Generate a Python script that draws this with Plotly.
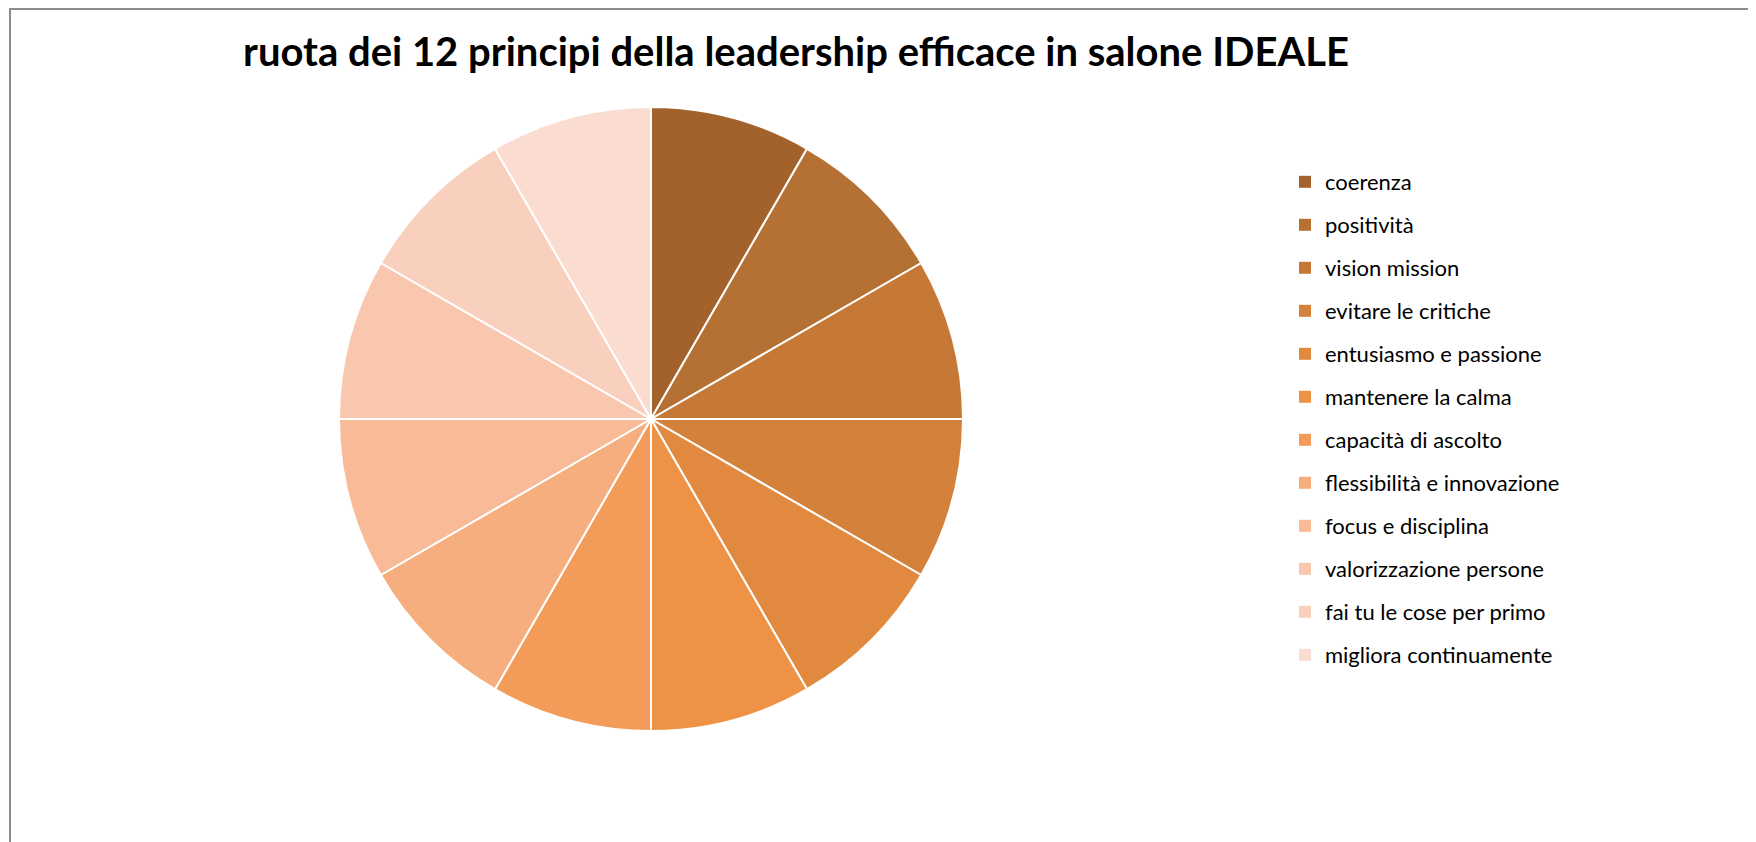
import plotly.graph_objects as go

labels = ["coerenza", "positività", "vision mission", "evitare le critiche",
          "entusiasmo e passione", "mantenere la calma", "capacità di ascolto",
          "flessibilità e innovazione", "focus e disciplina", "valorizzazione persone",
          "fai tu le cose per primo", "migliora continuamente"]
values = [1, 1, 1, 1, 1, 1, 1, 1, 1, 1, 1, 1]
colors = ["#A3622B", "#B57033", "#C67937", "#D4813C", "#E28940", "#EE9346",
          "#F39B58", "#F6AE7E", "#F8BA97", "#F8C7AD", "#F9D0BE", "#FADCD0"]
title_text = "ruota dei 12 principi della leadership efficace in salone IDEALE"

W, H = 1756, 842
FONT = "Lato"

fig = go.Figure()
fig.add_trace(go.Pie(
    labels=labels, values=values, sort=False, direction="clockwise", rotation=0,
    marker=dict(colors=colors, line=dict(color="white", width=2)),
    textinfo="none", hoverinfo="label", showlegend=False,
    domain=dict(x=[331 / W, 955 / W], y=[1 - 723 / H, 1 - 99 / H]),
))

# legend entries (one per category, so spacing can be controlled)
for i, (lab, col) in enumerate(zip(labels, colors)):
    fig.add_trace(go.Scatter(
        x=[None], y=[None], mode="markers", name=lab, legendgroup=f"g{i}",
        marker=dict(symbol="square", size=13, color=col), showlegend=True,
    ))

fig.update_layout(
    width=W, height=H,
    margin=dict(l=0, r=0, t=0, b=0),
    paper_bgcolor="white", plot_bgcolor="white",
    font=dict(family=FONT, color="#000000"),
    title=dict(text="<b>" + title_text + "</b>", x=788 / W, xanchor="center",
               y=1 - 44 / H, yanchor="middle",
               font=dict(family=FONT, size=40, color="#000000")),
    xaxis=dict(visible=False), yaxis=dict(visible=False),
    legend=dict(x=1277 / W, xanchor="left", y=1 - 153 / H, yanchor="top",
                font=dict(family=FONT, size=22, color="#000000"),
                tracegroupgap=11.4, bgcolor="rgba(0,0,0,0)", itemsizing="constant"),
    shapes=[dict(type="rect", xref="paper", yref="paper",
                 x0=2 / W, x1=1.02, y0=-0.02, y1=1 - 1 / H,
                 line=dict(color="#8C8C8C", width=2), fillcolor="rgba(0,0,0,0)")],
)

fig.write_html("out.html")
